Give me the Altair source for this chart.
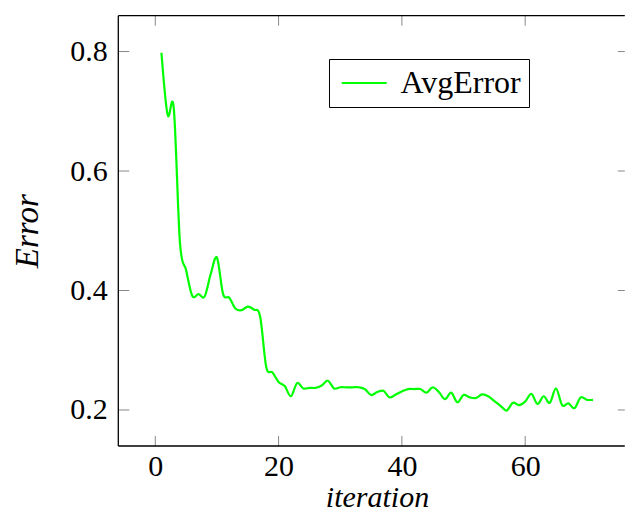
import altair as alt
import pandas as pd

iterations = list(range(1, 72))
avg_error = [
    0.798, 0.694, 0.705, 0.480, 0.434, 0.391, 0.394, 0.390, 0.428, 0.455,
    0.394, 0.388, 0.370, 0.367, 0.373, 0.368, 0.357, 0.272, 0.263, 0.247,
    0.240, 0.223, 0.245, 0.236, 0.237, 0.237, 0.241, 0.249, 0.236, 0.238,
    0.238, 0.238, 0.238, 0.235, 0.225, 0.230, 0.232, 0.221, 0.226, 0.231,
    0.235, 0.235, 0.235, 0.229, 0.238, 0.230, 0.218, 0.229, 0.213, 0.225,
    0.221, 0.220, 0.226, 0.223, 0.215, 0.207, 0.199, 0.212, 0.208, 0.214,
    0.227, 0.210, 0.223, 0.212, 0.236, 0.208, 0.211, 0.203, 0.221, 0.217,
    0.217,
]
x_ticks = [0, 20, 40, 60]
y_ticks = [0.2, 0.4, 0.6, 0.8]
series_name = "AvgError"

W = 506.5
H = 430.3
FONT = "Liberation Serif"
FS = 30
TFS = 33
GREEN = "#00ff00"

df = pd.DataFrame({"iteration": iterations, "error": avg_error, "series": series_name})
xt = pd.DataFrame({"xt": x_ticks})
yt = pd.DataFrame({"yt": y_ticks})

xscale = alt.Scale(domain=[-6, 76.16], nice=False, zero=False)
yscale = alt.Scale(domain=[0.1397, 0.860], nice=False, zero=False)

xaxis = alt.Axis(
    values=x_ticks, ticks=False, domain=False, grid=False,
    labelFont=FONT, labelFontSize=FS, labelColor="black", labelPadding=6,
    title="iteration", titleFont=FONT, titleFontSize=30, titleFontStyle="italic",
    titleFontWeight="normal", titleColor="black", titleBaseline="alphabetic",
    titleX=258.7, titleY=61,
)
yaxis = alt.Axis(
    values=y_ticks, format=".1f", ticks=False, domain=False, grid=False,
    labelFont=FONT, labelFontSize=FS, labelColor="black", labelPadding=11,
    title="Error", titleFont=FONT, titleFontSize=TFS, titleFontStyle="italic",
    titleFontWeight="normal", titleColor="black", titleBaseline="alphabetic",
    titleAngle=270, titleX=-81, titleY=215,
)

line = alt.Chart(df).mark_line(
    interpolate="cardinal", tension=0, strokeWidth=2.2
).encode(
    x=alt.X("iteration:Q", scale=xscale, axis=xaxis),
    y=alt.Y("error:Q", scale=yscale, axis=yaxis),
    color=alt.Color(
        "series:N",
        scale=alt.Scale(domain=[series_name], range=[GREEN]),
        legend=alt.Legend(
            title=None, orient="none", legendX=210.7, legendY=43.3,
            symbolType="M-1,0H3", symbolSize=506, symbolStrokeWidth=2.2,
            labelOffset=31.5, labelFont=FONT, labelFontSize=32, labelColor="black",
            strokeColor="black", fillColor="white", padding=8, cornerRadius=0,
        ),
    ),
)

tick_color = "#888888"
xt_bottom = alt.Chart(xt).mark_rule(color=tick_color, strokeWidth=1).encode(
    x=alt.X("xt:Q", scale=xscale), y=alt.value(H), y2=alt.value(H - 10)
)
xt_top = alt.Chart(xt).mark_rule(color=tick_color, strokeWidth=1).encode(
    x=alt.X("xt:Q", scale=xscale), y=alt.value(0), y2=alt.value(10)
)
yt_left = alt.Chart(yt).mark_rule(color=tick_color, strokeWidth=1).encode(
    y=alt.Y("yt:Q", scale=yscale), x=alt.value(0), x2=alt.value(11)
)
yt_right = alt.Chart(yt).mark_rule(color=tick_color, strokeWidth=1).encode(
    y=alt.Y("yt:Q", scale=yscale), x=alt.value(W - 7), x2=alt.value(W)
)

# frame: left, top and bottom edges (the right edge lies beyond the visible area)
frame_df = pd.DataFrame({"edge": ["left", "top", "bottom"]})
frame_left = alt.Chart(frame_df.iloc[[0]]).mark_rule(color="black", strokeWidth=1.3).encode(
    x=alt.value(0), y=alt.value(0), y2=alt.value(H)
)
frame_top = alt.Chart(frame_df.iloc[[1]]).mark_rule(color="black", strokeWidth=1.3).encode(
    x=alt.value(0), x2=alt.value(W), y=alt.value(0)
)
frame_bottom = alt.Chart(frame_df.iloc[[2]]).mark_rule(color="black", strokeWidth=1.3).encode(
    x=alt.value(0), x2=alt.value(W), y=alt.value(H)
)

chart = alt.layer(
    xt_bottom, xt_top, yt_left, yt_right, frame_left, frame_top, frame_bottom, line
).properties(
    width=W, height=H,
    autosize=alt.AutoSizeParams(type="none"),
    padding={"left": 110.3, "top": 7.7, "right": 0, "bottom": 69},
).configure_view(strokeWidth=0)

chart.save("out.html", embed_options={"renderer": "svg", "actions": False})
